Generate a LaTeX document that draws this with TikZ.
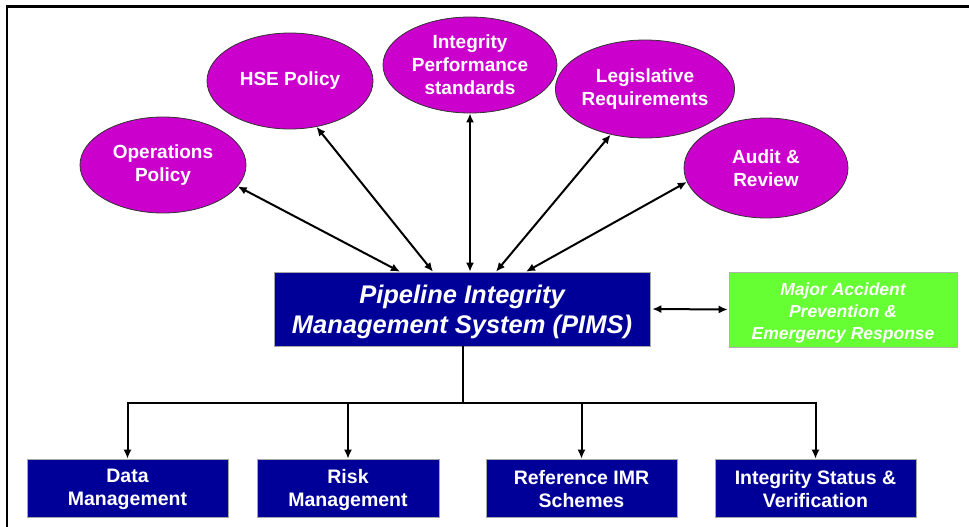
\documentclass[tikz,border=0pt]{standalone}
\usepackage{fontspec}
\setmainfont{Liberation Sans}
\usetikzlibrary{shapes.geometric,arrows.meta}
\definecolor{pmag}{HTML}{CC00CC}
\definecolor{pnavy}{HTML}{000099}
\definecolor{pgreen}{HTML}{66FF33}
\newcommand{\lowertxt}[2]{\raisebox{0pt}[\dimexpr\height+#1\relax]{#2}}
\tikzset{
  oval/.style={ellipse, fill=pmag, draw=black!80, line width=0.8pt, inner sep=0pt,
    text=white, align=center, font=\bfseries\fontsize{19}{23}\selectfont},
  navybox/.style={rectangle, fill=pnavy, draw=gray!70, line width=0.6pt, inner sep=0pt,
    text=white, align=center},
  greenbox/.style={rectangle, fill=pgreen, draw=gray!60, line width=0.6pt, inner sep=0pt,
    text=white, align=center, font=\bfseries\itshape\fontsize{17.5}{22}\selectfont},
  dbl/.style={{Latex[length=9pt,width=8pt]}-{Latex[length=9pt,width=8pt]}, line width=2pt, black},
  sgl/.style={-{Latex[length=9pt,width=8pt]}, line width=2pt, black},
  wire/.style={line width=2pt, black}
}
\begin{document}
\begin{tikzpicture}[x=1pt,y=-1pt]
\useasboundingbox (0,0) rectangle (969,527);
% frame
\draw[line width=2.2pt] (7,527) -- (7,6.5) -- (969,6.5);
% ellipses
\node[oval, minimum width=166pt, minimum height=96pt] (ops) at (163,165) {Operations\\Policy};
\node[oval, minimum width=166pt, minimum height=96pt] (hse) at (290,81) {HSE Policy};
\node[oval, minimum width=174pt, minimum height=96pt] (ips) at (470,65) {Integrity\\Performance\\standards};
\node[oval, minimum width=164pt, minimum height=98pt] (leg) at (645,89) {Legislative\\Requirements};
\node[oval, minimum width=164pt, minimum height=100pt] (aud) at (766,168) {Audit \&\\Review};
% central box
\node[navybox, minimum width=376pt, minimum height=74pt,
  font=\bfseries\itshape\fontsize{25.5}{30}\selectfont] (pims) at (462,309)
  {\lowertxt{5pt}{Pipeline Integrity}\\Management System (PIMS)};
\node[greenbox, minimum width=228pt, minimum height=75pt] (mapr) at (843,309.5)
  {\lowertxt{7pt}{Major Accident}\\Prevention \&\\Emergency Response};
% bottom boxes
\tikzset{lowbox/.style={navybox, minimum width=201pt, minimum height=58pt,
  font=\bfseries\fontsize{19.5}{23}\selectfont}}
\node[lowbox] (data) at (127.5,488) {\lowertxt{3pt}{Data}\\Management};
\node[lowbox, minimum width=182pt] (risk) at (348,488) {\lowertxt{3pt}{Risk}\\Management};
\node[lowbox, minimum width=191pt] (imr) at (581.5,488) {\lowertxt{3pt}{Reference IMR}\\Schemes};
\node[lowbox] (stat) at (815.5,488) {\lowertxt{3pt}{Integrity Status \&}\\Verification};
% arrows to PIMS
\draw[dbl] (ops.-16) -- ([xshift=-62pt]pims.north);
\draw[dbl] (hse.-60) -- ([xshift=-29pt]pims.north);
\draw[dbl] (ips.south) -- ([xshift=8pt]pims.north);
\draw[dbl] (leg.-127) -- ([xshift=34pt]pims.north);
\draw[dbl] (aud.-170) -- ([xshift=64pt]pims.north);
\draw[dbl] ([xshift=2pt]pims.east) -- ([xshift=-1pt]mapr.west);
% tree
\coordinate (hub) at (463,403);
\draw[wire] ([xshift=1pt]pims.south) -- (hub);
\draw[sgl] (hub) -| (data.north);
\draw[sgl] (hub) -| (risk.north);
\draw[sgl] (hub) -| (imr.north);
\draw[sgl] (hub) -| (stat.north);
\end{tikzpicture}
\end{document}
